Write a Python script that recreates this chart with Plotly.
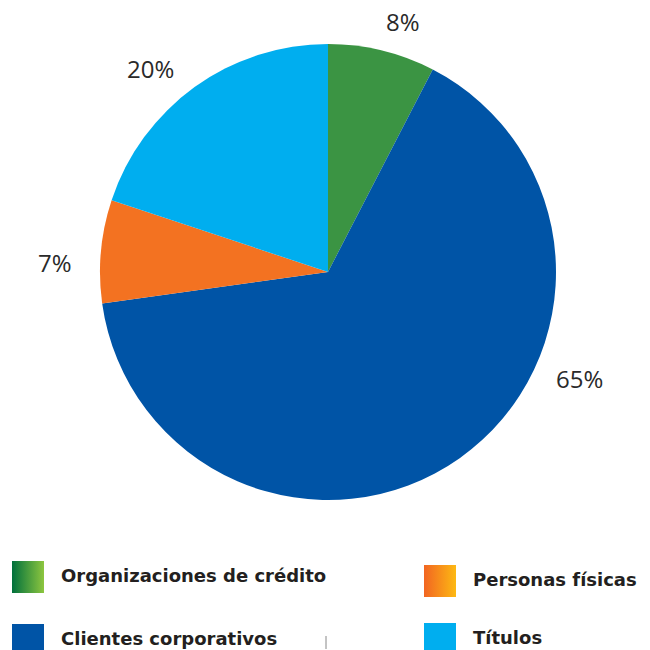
import plotly.graph_objects as go

# ---- data ----
categories = ["Organizaciones de crédito", "Clientes corporativos", "Personas físicas", "Títulos"]
values = [7.6, 65.2, 7.3, 19.9]
value_labels = ["8%", "65%", "7%", "20%"]

# ---- styles ----
slice_colors = ["#3B9443", "#0054A6", "#F37221", "#00AEEF"]
gradients = [
    [[0, "#00703C"], [1, "#8DC63F"]],
    [[0, "#0054A6"], [1, "#0054A6"]],
    [[0, "#F26522"], [1, "#FDB913"]],
    [[0, "#00AEEF"], [1, "#00AEEF"]],
]
W = H = 650
cx, cy, r = 328, 272, 228
label_pos = [(403, 21), (579, 378), (55, 262), (150, 68)]
legend_pos = [(12, 561), (12, 624), (424, 565), (424, 623)]  # top-left of squares
sq = 32

fig = go.Figure()
fig.add_trace(go.Pie(
    labels=categories, values=values, sort=False, direction="clockwise", rotation=0,
    marker=dict(colors=slice_colors, line=dict(width=0)),
    textinfo="none", hoverinfo="label+percent", showlegend=False,
    domain=dict(x=[(cx - r) / W, (cx + r) / W], y=[1 - (cy + r) / H, 1 - (cy - r) / H]),
))

annotations = []
for (lx, ly), t in zip(label_pos, value_labels):
    annotations.append(dict(x=lx, y=ly, xref="x", yref="y", text=t, showarrow=False,
                            xanchor="center", yanchor="middle",
                            font=dict(family="Open Sans", size=24, color="#2A2A2A")))

for (sx, sy), name, grad in zip(legend_pos, categories, gradients):
    fig.add_trace(go.Scatter(
        x=[sx, sx + sq, sx + sq, sx, sx], y=[sy, sy, sy + sq, sy + sq, sy],
        mode="lines", line=dict(width=0), fill="toself",
        fillgradient=dict(type="horizontal", colorscale=grad),
        hoverinfo="skip", showlegend=False,
    ))
    annotations.append(dict(x=sx + sq + 15, y=sy + sq / 2 - 2, xref="x", yref="y", text="<b>%s</b>" % name,
                            showarrow=False, xanchor="left", yanchor="middle",
                            font=dict(family="DejaVu Sans", size=18, color="#231F20")))

fig.add_shape(type="line", x0=326, x1=326, y0=636, y1=649, xref="x", yref="y",
              line=dict(color="#888888", width=1))

fig.update_layout(
    width=W, height=H, margin=dict(l=0, r=0, t=0, b=0),
    paper_bgcolor="white", plot_bgcolor="rgba(0,0,0,0)",
    xaxis=dict(range=[0, W], visible=False, fixedrange=True),
    yaxis=dict(range=[H, 0], visible=False, fixedrange=True),
    annotations=annotations,
)

fig.write_html("out.html", config={"displayModeBar": False},
               post_script="document.body.style.margin='0';document.body.style.overflow='hidden';")
